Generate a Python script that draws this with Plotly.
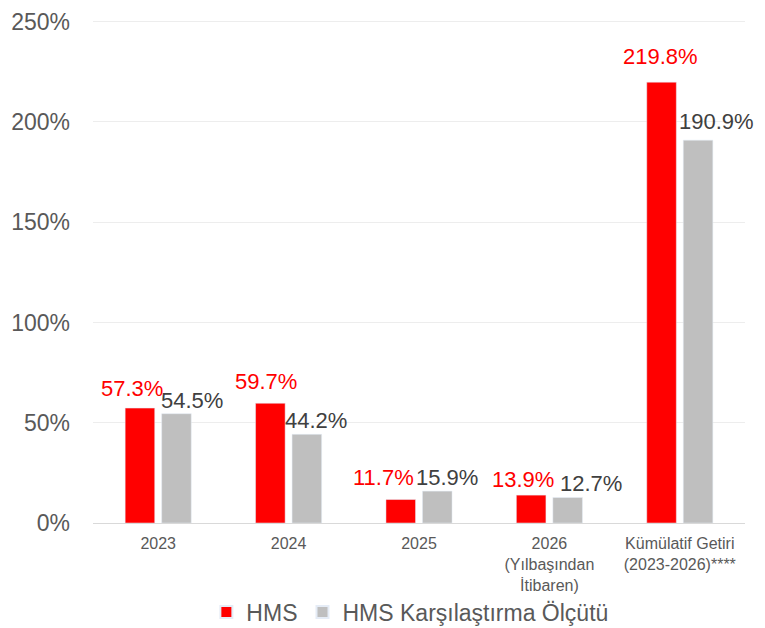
import plotly.graph_objects as go

categories = ["2023", "2024", "2025", "2026<br>(Yılbaşından<br>İtibaren)", "Kümülatif Getiri<br>(2023-2026)****"]
hms = [57.3, 59.7, 11.7, 13.9, 219.8]
benchmark = [54.5, 44.2, 15.9, 12.7, 190.9]
series_names = ["HMS", "HMS Karşılaştırma Ölçütü"]
tick_vals = [0, 50, 100, 150, 200, 250]
tick_text = ["0%", "50%", "100%", "150%", "200%", "250%"]

RED = "#ff0000"
GRAY = "#bfbfbf"
TXT = "#595959"
FONT = "Liberation Sans, Arial, sans-serif"

# label offsets (style, in pixels) relative to each category centre
red_xshift = [-26, -23, -36, -26, -19]
red_yshift = [5, 7, 8, 1, 11]
gray_xshift = [34, 27, 28, 42, 37]
gray_yshift = [-1, -1, -1, 0, 4]

fig = go.Figure()
fig.add_trace(go.Bar(x=categories, y=hms, name=series_names[0], marker_color=RED))
fig.add_trace(go.Bar(x=categories, y=benchmark, name=series_names[1], marker_color=GRAY))

for i, c in enumerate(categories):
    fig.add_annotation(x=i, y=hms[i], text=f"{hms[i]:.1f}%", showarrow=False,
                       xref="x", yref="y", yanchor="bottom", xanchor="center",
                       xshift=red_xshift[i], yshift=red_yshift[i],
                       font=dict(family=FONT, size=22, color=RED))
    fig.add_annotation(x=i, y=benchmark[i], text=f"{benchmark[i]:.1f}%", showarrow=False,
                       xref="x", yref="y", yanchor="bottom", xanchor="center",
                       xshift=gray_xshift[i], yshift=gray_yshift[i],
                       font=dict(family=FONT, size=22, color="#404040"))

fig.update_layout(
    width=757, height=620,
    margin=dict(l=85, r=20, t=12, b=105, autoexpand=False),
    paper_bgcolor="white", plot_bgcolor="white",
    barmode="group", bargap=0.44, bargroupgap=0.19,
    font=dict(family=FONT, color=TXT),
    showlegend=True,
    legend=dict(orientation="h", x=0.486, xanchor="center", y=-0.177, yanchor="middle",
                font=dict(family=FONT, size=23, color=TXT), itemsizing="constant",
                bgcolor="rgba(0,0,0,0)"),
)
fig.update_yaxes(range=[0, 250.8], tickvals=tick_vals, ticktext=tick_text,
                 showgrid=True, gridcolor="#ededed", gridwidth=1,
                 zeroline=False, showline=False, ticks="", automargin=False,
                 ticklabelstandoff=22, ticklabeloverflow="allow",
                 tickfont=dict(family=FONT, size=23, color=TXT))
fig.update_xaxes(type="category", range=[-0.5, len(categories) - 0.5],
                 showline=True, linecolor="#d9d9d9", linewidth=1, ticks="",
                 automargin=False, ticklabelstandoff=6,
                 tickfont=dict(family=FONT, size=16, color=TXT))

fig.write_html("out.html")
